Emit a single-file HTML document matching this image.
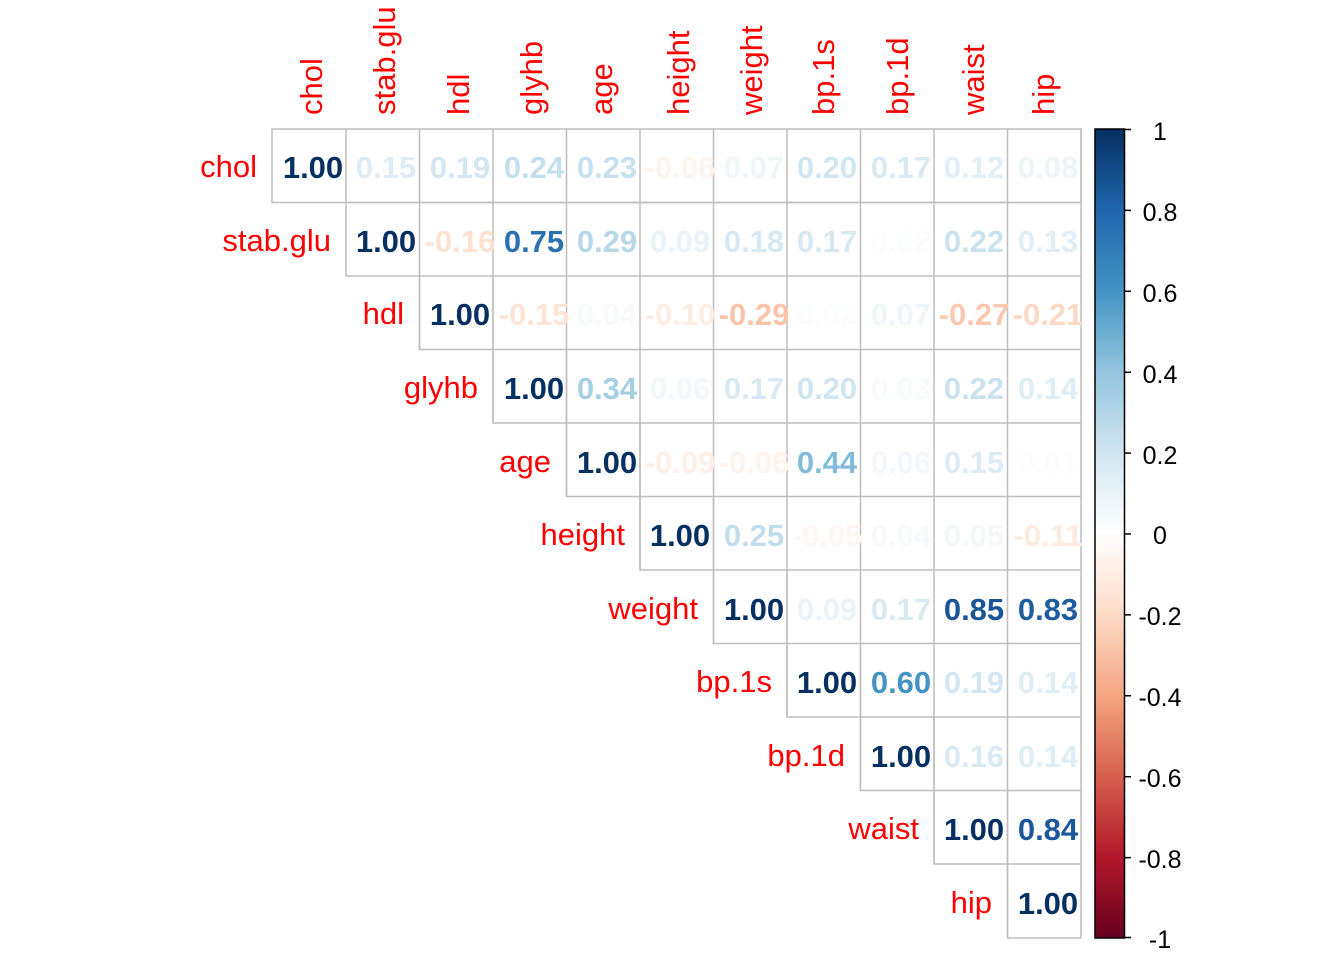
<!DOCTYPE html>
<html><head><meta charset="utf-8"><style>body{margin:0;background:#fff}svg{display:block}</style></head><body>
<svg width="1344" height="960" xmlns="http://www.w3.org/2000/svg" font-family="Liberation Sans, Arial, sans-serif">
<defs><linearGradient id="g" x1="0" y1="0" x2="0" y2="1">
<stop offset="0" stop-color="#053061"/><stop offset="0.1" stop-color="#2166AC"/><stop offset="0.2" stop-color="#4393C3"/><stop offset="0.3" stop-color="#92C5DE"/><stop offset="0.4" stop-color="#D1E5F0"/><stop offset="0.5" stop-color="#FFFFFF"/><stop offset="0.6" stop-color="#FDDBC7"/><stop offset="0.7" stop-color="#F4A582"/><stop offset="0.8" stop-color="#D6604D"/><stop offset="0.9" stop-color="#B2182B"/><stop offset="1" stop-color="#67001F"/>
</linearGradient></defs>
<g fill="none" stroke="#bebebe" stroke-width="1.5">
<rect x="272" y="129" width="809" height="73.5"/>
<path d="M346,129V276 M419.5,129V202.5 M493,129V202.5 M566.5,129V202.5 M640,129V202.5 M713.5,129V202.5 M787,129V202.5 M860.5,129V202.5 M934,129V202.5 M1007.5,129V202.5"/>
<path d="M346,202.5H1081 M346,276H1081 M419.5,276V349.5H1081 M493,349.5V423H1081 M566.5,423V496.5H1081 M640,496.5V570H1081 M713.5,570V643.5H1081 M787,643.5V717H1081 M860.5,717V790.5H1081 M934,790.5V864H1081 M1007.5,864V938H1081 M1081,129V938"/>
<path d="M419.5,202.5V349.5 M493,276V423 M566.5,349.5V496.5 M640,423V570 M713.5,496.5V643.5 M787,570V717 M860.5,643.5V790.5 M934,717V864 M1007.5,790.5V938"/>
<path d="M493,202.5V349.5 M566.5,202.5V423 M640,202.5V496.5 M713.5,202.5V570 M787,202.5V643.5 M860.5,202.5V717 M934,202.5V790.5 M1007.5,202.5V864"/>
</g>
<g font-size="31" fill="#ff0000">
<g text-anchor="start">
<text transform="translate(322,115) rotate(-90)">chol</text>
<text transform="translate(395,115) rotate(-90)">stab.glu</text>
<text transform="translate(469,115) rotate(-90)">hdl</text>
<text transform="translate(542,115) rotate(-90)">glyhb</text>
<text transform="translate(612,115) rotate(-90)">age</text>
<text transform="translate(689,115) rotate(-90)">height</text>
<text transform="translate(762,115) rotate(-90)">weight</text>
<text transform="translate(834,115) rotate(-90)">bp.1s</text>
<text transform="translate(908,115) rotate(-90)">bp.1d</text>
<text transform="translate(984,115) rotate(-90)">waist</text>
<text transform="translate(1054,115) rotate(-90)">hip</text>
</g>
<g text-anchor="end">
<text x="257" y="177">chol</text>
<text x="331" y="251">stab.glu</text>
<text x="404" y="324">hdl</text>
<text x="478" y="398">glyhb</text>
<text x="551" y="472">age</text>
<text x="625" y="545">height</text>
<text x="698" y="619">weight</text>
<text x="772" y="692">bp.1s</text>
<text x="845" y="766">bp.1d</text>
<text x="919" y="839">waist</text>
<text x="992" y="913">hip</text>
</g></g>
<g font-size="31" font-weight="bold" text-anchor="middle">
<g transform="translate(0,178)">
<text x="313" fill="#053061">1.00</text><text x="386" fill="#DDEBF4">0.15</text><text x="460" fill="#D3E6F1">0.19</text><text x="534" fill="#C4DFEC">0.24</text><text x="607" fill="#C8E0ED">0.23</text><text x="680" fill="#FEF4EE">-0.06</text><text x="754" fill="#EFF6FA">0.07</text><text x="827" fill="#D1E5F0">0.20</text><text x="901" fill="#D8E9F2">0.17</text><text x="974" fill="#E3EFF6">0.12</text><text x="1048" fill="#EDF5F9">0.08</text></g>
<g transform="translate(0,252)">
<text x="386" fill="#053061">1.00</text><text x="460" fill="#FDE2D2">-0.16</text><text x="534" fill="#2971B2">0.75</text><text x="607" fill="#B5D7E8">0.29</text><text x="680" fill="#EAF3F8">0.09</text><text x="754" fill="#D6E8F2">0.18</text><text x="827" fill="#D8E9F2">0.17</text><text x="901" fill="#FAFCFD">0.02</text><text x="974" fill="#CBE2EE">0.22</text><text x="1048" fill="#E1EEF5">0.13</text></g>
<g transform="translate(0,325)">
<text x="460" fill="#053061">1.00</text><text x="534" fill="#FDE4D5">-0.15</text><text x="607" fill="#F6FAFC">0.04</text><text x="680" fill="#FEEDE3">-0.10</text><text x="754" fill="#F9C3A8">-0.29</text><text x="827" fill="#FAFCFD">0.02</text><text x="901" fill="#EFF6FA">0.07</text><text x="974" fill="#FAC8AF">-0.27</text><text x="1048" fill="#FDD8C4">-0.21</text></g>
<g transform="translate(0,399)">
<text x="534" fill="#053061">1.00</text><text x="607" fill="#A5CFE3">0.34</text><text x="680" fill="#F1F7FA">0.06</text><text x="754" fill="#D8E9F2">0.17</text><text x="827" fill="#D1E5F0">0.20</text><text x="901" fill="#F8FBFC">0.03</text><text x="974" fill="#CBE2EE">0.22</text><text x="1048" fill="#DFEDF5">0.14</text></g>
<g transform="translate(0,473)">
<text x="607" fill="#053061">1.00</text><text x="680" fill="#FEEFE7">-0.09</text><text x="754" fill="#FEF4EE">-0.06</text><text x="827" fill="#82BBD9">0.44</text><text x="901" fill="#F1F7FA">0.06</text><text x="974" fill="#DDEBF4">0.15</text><text x="1048" fill="#FCFDFE">0.01</text></g>
<g transform="translate(0,546)">
<text x="680" fill="#053061">1.00</text><text x="754" fill="#C1DDEB">0.25</text><text x="827" fill="#FEF6F2">-0.05</text><text x="901" fill="#F6FAFC">0.04</text><text x="974" fill="#F3F8FB">0.05</text><text x="1048" fill="#FEEBE0">-0.11</text></g>
<g transform="translate(0,620)">
<text x="754" fill="#053061">1.00</text><text x="827" fill="#EAF3F8">0.09</text><text x="901" fill="#D8E9F2">0.17</text><text x="974" fill="#1A5597">0.85</text><text x="1048" fill="#1C5C9F">0.83</text></g>
<g transform="translate(0,693)">
<text x="827" fill="#053061">1.00</text><text x="901" fill="#4393C3">0.60</text><text x="974" fill="#D3E6F1">0.19</text><text x="1048" fill="#DFEDF5">0.14</text></g>
<g transform="translate(0,767)">
<text x="901" fill="#053061">1.00</text><text x="974" fill="#DAEAF3">0.16</text><text x="1048" fill="#DFEDF5">0.14</text></g>
<g transform="translate(0,840)">
<text x="974" fill="#053061">1.00</text><text x="1048" fill="#1B589B">0.84</text></g>
<g transform="translate(0,914)">
<text x="1048" fill="#053061">1.00</text></g>
</g>
<rect x="1095" y="129" width="29.5" height="809" fill="url(#g)" stroke="#000" stroke-width="1.5"/>
<g stroke="#000" stroke-width="1.5">
<path d="M1124,129.5h7 M1124,210.4h7 M1124,291.3h7 M1124,372.2h7 M1124,453.1h7 M1124,534h7 M1124,614.9h7 M1124,695.8h7 M1124,776.7h7 M1124,857.6h7 M1124,937.5h7"/>
</g>
<g font-size="25" text-anchor="middle" fill="#000">
<text x="1160" y="140">1</text><text x="1160" y="221">0.8</text><text x="1160" y="302">0.6</text><text x="1160" y="383">0.4</text><text x="1160" y="464">0.2</text><text x="1160" y="544">0</text><text x="1160" y="625">-0.2</text><text x="1160" y="706">-0.4</text><text x="1160" y="787">-0.6</text><text x="1160" y="868">-0.8</text><text x="1160" y="948">-1</text>
</g>
</svg>
</body></html>
